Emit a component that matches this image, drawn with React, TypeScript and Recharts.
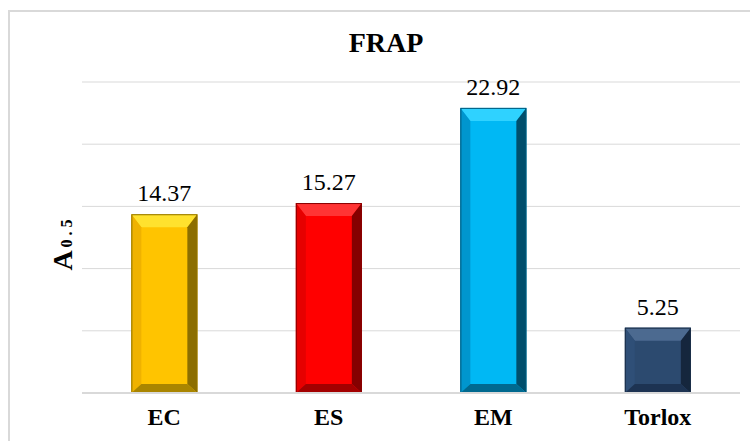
import React from "react";
import { BarChart, Bar, XAxis, YAxis, CartesianGrid, LabelList } from "recharts";

const categories = ["EC", "ES", "EM", "Torlox"];
const frapValues = [14.37, 15.27, 22.92, 5.25];
const yTicks = [0, 5, 10, 15, 20, 25];

const data = categories.map((name, i) => ({ name, value: frapValues[i] }));

const SHADES = [
  { face: "#FFC400", top: "#FFE22E", left: "#EFB200", right: "#8C6E00", bottom: "#A98500", edge: "#8F7200" },
  { face: "#FF0000", top: "#FF3434", left: "#E60000", right: "#850000", bottom: "#A30000", edge: "#8A0000" },
  { face: "#00B8F4", top: "#2FD2FF", left: "#0096CE", right: "#004E6C", bottom: "#00698F", edge: "#00587A" },
  { face: "#2C4A6F", top: "#4C6A90", left: "#2F4F77", right: "#15263D", bottom: "#1D3352", edge: "#1A2E48" },
];

const FONT = "'Liberation Serif', 'Times New Roman', serif";

const BevelBar = (props: any) => {
  const { x, y, width: w, height: h, index } = props;
  const s = SHADES[index % SHADES.length];
  const b = Math.min(10, w / 2, h / 2);
  const t = Math.min(13, h / 2);
  const bb = Math.min(9, h / 2);
  const pts = (arr: number[][]) => arr.map((p) => p.join(",")).join(" ");
  return (
    <g>
      <rect x={x} y={y} width={w} height={h} fill={s.face} />
      <polygon points={pts([[x, y], [x + w, y], [x + w - b, y + t], [x + b, y + t]])} fill={s.top} />
      <polygon points={pts([[x, y], [x + b, y + t], [x + b, y + h - bb], [x, y + h]])} fill={s.left} />
      <polygon points={pts([[x + w, y], [x + w, y + h], [x + w - b, y + h - bb], [x + w - b, y + t]])} fill={s.right} />
      <polygon points={pts([[x, y + h], [x + w, y + h], [x + w - b, y + h - bb], [x + b, y + h - bb]])} fill={s.bottom} />
      <rect x={x + 0.5} y={y + 0.5} width={w - 1} height={h - 1} fill="none" stroke={s.edge} strokeWidth={1} />
    </g>
  );
};

const TopLabel = (props: any) => {
  const { x, y, width, value } = props;
  return (
    <text x={x + width / 2} y={y - 13} textAnchor="middle" fontFamily={FONT} fontSize={24} fill="#000">
      {Number(value).toFixed(2)}
    </text>
  );
};

export default function App() {
  return (
    <div style={{ position: "absolute", left: 0, top: 0, width: 750, height: 441, background: "#fff", overflow: "hidden" }}>
      <div style={{ position: "absolute", left: 8, top: 10, width: 800, height: 500, borderLeft: "2px solid #d9d9d9", borderTop: "2px solid #d9d9d9" }} />
      <BarChart
        width={750}
        height={441}
        data={data}
        margin={{ top: 82, right: 10, bottom: 8, left: 82 }}
        barCategoryGap="30%"
        style={{ position: "absolute", left: 0, top: 0 }}
      >
        <CartesianGrid horizontal vertical={false} stroke="#d9d9d9" strokeWidth={1} />
        <YAxis hide domain={[0, 25]} ticks={yTicks} />
        <XAxis
          dataKey="name"
          height={40}
          axisLine={{ stroke: "#d9d9d9", strokeWidth: 2 }}
          tickLine={false}
          tickMargin={9}
          tick={{ fill: "#000", fontSize: 24, fontWeight: 700, fontFamily: FONT }}
        />
        <Bar dataKey="value" isAnimationActive={false} shape={<BevelBar />}>
          <LabelList dataKey="value" content={<TopLabel />} />
        </Bar>
      </BarChart>
      <svg width={750} height={441} style={{ position: "absolute", left: 0, top: 0, pointerEvents: "none" }}>
        <text x={386} y={52} textAnchor="middle" fontFamily={FONT} fontWeight={700} fontSize={28} fill="#000">
          FRAP
        </text>
        <text transform="translate(72,245) rotate(-90)" textAnchor="middle" fontFamily={FONT} fill="#000">
          <tspan fontSize={28} fontWeight={700}>A</tspan>
          <tspan fontSize={16} fontWeight={700} dx={3}>0 . 5</tspan>
        </text>
      </svg>
    </div>
  );
}
